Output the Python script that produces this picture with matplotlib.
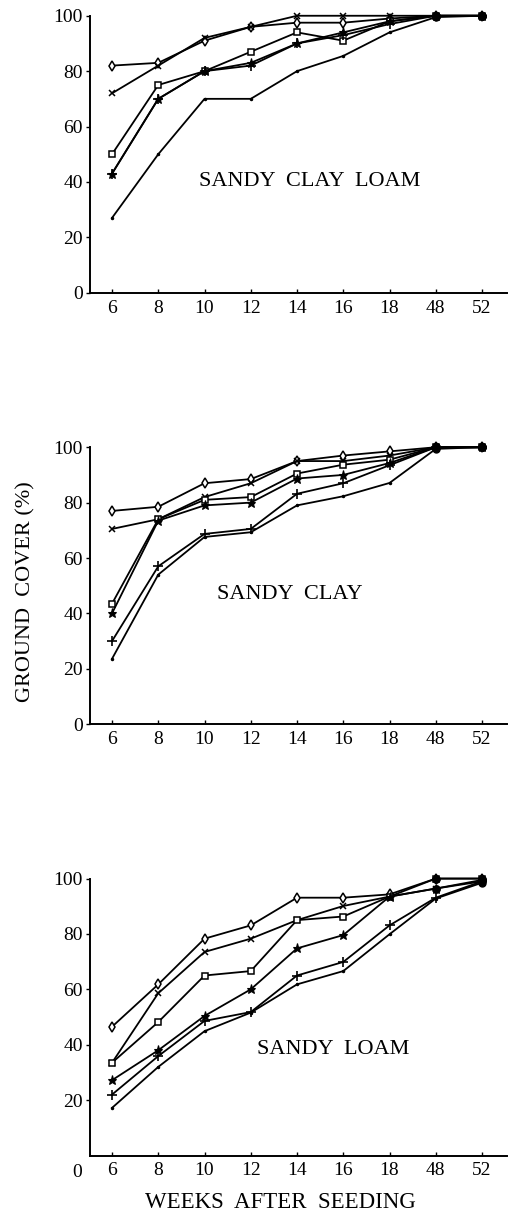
import numpy as np
import matplotlib.pyplot as plt

plt.rcParams['font.family'] = ['Liberation Serif', 'DejaVu Serif']

weeks = ['6', '8', '10', '12', '14', '16', '18', '48', '52']
soils = ['SANDY  CLAY  LOAM', 'SANDY  CLAY', 'SANDY  LOAM']

# ground cover (%) per treatment
clay_loam_diamond = [82, 83, 91, 96, 97.5, 97.5, 99, 100, 100]
clay_loam_cross = [72, 82, 92, 96, 100, 100, 100, 100, 100]
clay_loam_square = [50, 75, 80, 87, 94, 91, 98, 100, 100]
clay_loam_star = [43, 70, 80, 83, 90, 94, 98, 100, 100]
clay_loam_plus = [43, 70, 80, 82, 90, 93, 97, 100, 100]
clay_loam_plain = [27, 50, 70, 70, 80, 85.5, 94, 99.5, 100]

clay_diamond = [77, 78.5, 87, 88.5, 95, 97, 98.5, 100, 100]
clay_cross = [70.5, 74, 82, 87, 95, 95, 97, 100, 100]
clay_square = [43.5, 74, 81, 82, 90.5, 93.7, 95.5, 100, 100]
clay_star = [40, 73.5, 79, 80, 88.7, 90, 94.3, 100, 100]
clay_plus = [30, 57, 68.7, 70.5, 83.2, 87, 93.5, 100, 100]
clay_plain = [23.6, 54, 67.6, 69.3, 79, 82.3, 87.1, 99.4, 100]

loam_diamond = [46.5, 61.8, 78.3, 83.1, 93.1, 93.1, 94.3, 100, 100]
loam_cross = [33.5, 58.6, 73.5, 78.3, 85, 90.1, 93.5, 96.4, 99]
loam_square = [33.5, 48.2, 65, 66.6, 85, 86.3, 93.5, 100, 100]
loam_star = [27.2, 38, 50.4, 60, 74.8, 79.6, 93.5, 96.4, 99.5]
loam_plus = [22, 35.9, 48.6, 51.8, 65, 69.9, 83.1, 93.1, 99]
loam_plain = [17.2, 32, 44.9, 51.6, 61.8, 66.6, 79.9, 92.8, 98.5]

panels = [
    [clay_loam_diamond, clay_loam_cross, clay_loam_square, clay_loam_star, clay_loam_plus, clay_loam_plain],
    [clay_diamond, clay_cross, clay_square, clay_star, clay_plus, clay_plain],
    [loam_diamond, loam_cross, loam_square, loam_star, loam_plus, loam_plain],
]

styles = [
    dict(marker='d', ms=5.5, mfc='white', mew=1.1),
    dict(marker='x', ms=5, mew=1.1),
    dict(marker='s', ms=4.8, mfc='white', mew=1.1),
    dict(marker='*', ms=6.5, mew=0.8),
    dict(marker='+', ms=6.5, mew=1.2),
    dict(marker='.', ms=3),
]

fig = plt.figure(figsize=(5.14, 12.12), dpi=100)
bottoms = [0.7585, 0.4025, 0.0466]
label_pos = [(0.527, 0.40), (0.48, 0.468), (0.582, 0.383)]
x = np.arange(len(weeks))

for i, series in enumerate(panels):
    ax = fig.add_axes([0.1751, bottoms[i], 0.8113, 0.2285])
    for vals, st in zip(series, styles):
        ax.plot(x, vals, color='black', lw=1.3, clip_on=False, **st)
        # markers pile up into solid dots where treatments meet near 100 %
        ends = [j for j in (7, 8) if vals[j] >= 96]
        ax.plot(x[ends], np.array(vals)[ends], 'o', color='black', ms=5, clip_on=False)

    ax.set_xlim(-0.476, 8.54)
    ax.set_ylim(0, 100)
    ax.set_xticks(x)
    ax.set_xticklabels(weeks)
    if i < 2:
        ax.set_yticks([0, 20, 40, 60, 80, 100])
    else:
        ax.set_yticks([20, 40, 60, 80, 100])
        ax.text(-0.031, -0.06, '0', transform=ax.transAxes, ha='center', va='center', fontsize=14)
    ax.tick_params(axis='x', direction='in', length=3, width=1, labelsize=14, pad=5)
    ax.tick_params(axis='y', direction='out', length=3, width=1, labelsize=14, pad=2)
    for s in ['top', 'right']:
        ax.spines[s].set_visible(False)
    for s in ['left', 'bottom']:
        ax.spines[s].set_linewidth(1.4)
    ax.text(label_pos[i][0], label_pos[i][1], soils[i], transform=ax.transAxes,
            ha='center', va='center', fontsize=16)

fig.text(26 / 514, 1 - 592 / 1212, 'GROUND  COVER (%)', rotation=90,
         ha='center', va='center', fontsize=16)
fig.text(280 / 514, 1 - 1202 / 1212, 'WEEKS  AFTER  SEEDING', ha='center', va='center', fontsize=16.5)

fig.savefig('out.png', dpi=100, facecolor='white')
